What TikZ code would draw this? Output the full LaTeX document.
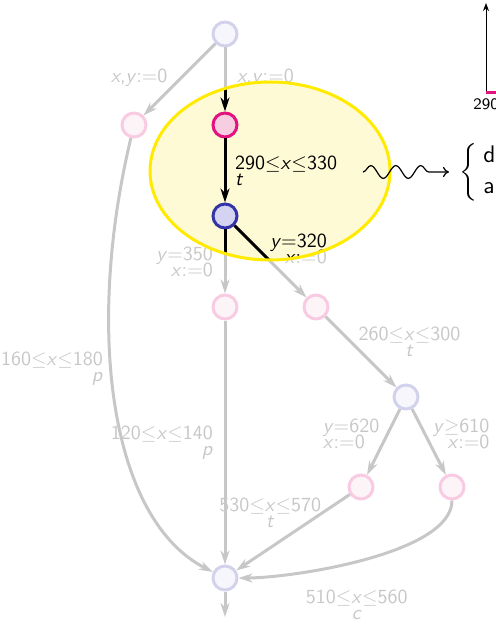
\documentclass[tikz,border=0pt]{standalone}
\usepackage{tikz}
\usepackage{amsmath}
\usepackage{xcolor}
\usetikzlibrary{arrows.meta,decorations.pathmorphing}

\definecolor{locpink}{HTML}{E2127F}
\definecolor{locpinkfill}{HTML}{F6CDE1}
\definecolor{locblue}{HTML}{3434A8}
\definecolor{locbluefill}{HTML}{D4D4F2}
\definecolor{zonefill}{HTML}{FFFAD6}
\definecolor{zonedraw}{HTML}{FFEA00}

% faded colours by default
\colorlet{cedge}{black!22}
\colorlet{cpink}{locpink!22}
\colorlet{cpinkfill}{locpinkfill!22}
\colorlet{cblue}{locblue!22}
\colorlet{cbluefill}{locbluefill!22}

\tikzset{
	>={Stealth[length=7pt,width=4.5pt]},
	pinkloc/.style={circle, draw=cpink, fill=cpinkfill, line width=1.5pt, minimum size=12pt, inner sep=0pt},
	blueloc/.style={circle, draw=cblue, fill=cbluefill, line width=1.5pt, minimum size=12pt, inner sep=0pt},
	trans/.style={->, draw=cedge, line width=1.5pt},
	guard/.style={font=\sffamily, text=cedge, align=center},
	zone/.style={line width=1.5pt},
	wave/.style={semithick, -{To[length=3pt,width=5pt]}, decorate, decoration={snake, amplitude=3.2pt, segment length=12.5pt, post length=4pt}},
	axis/.style={line width=0.5pt, -{Stealth[length=4pt,width=3pt]}},
	tick/.style={draw=locpink, line width=1.5pt}
}

\begin{document}
\begin{tikzpicture}[x=0.5pt, y=-0.5pt]
	\useasboundingbox (0,0) rectangle (495,625);

	% --- Locations ---
	\node[blueloc] (l0) at (225,34) {};
	\node[pinkloc] (l1) at (134,125) {};
	\node[pinkloc] (l2) at (225,125) {};
	\node[blueloc] (l3) at (225,216) {};
	\node[pinkloc] (l4) at (225,307) {};
	\node[pinkloc] (l5) at (316,307) {};
	\node[blueloc] (l6) at (406,397) {};
	\node[pinkloc] (l7) at (361,487) {};
	\node[pinkloc] (l8) at (452,487) {};
	\node[blueloc] (l9) at (225,578) {};
	\coordinate (out) at (225,617);

	% --- Transitions ---
	\draw[trans] (l0) -- node[guard, pos=0.47, left, xshift=-3pt] {\textit{x},\textit{y}:=0} (l1);
	\draw[trans] (l0) -- node[guard, pos=0.47, right, xshift=2pt] {\textit{x},\textit{y}:=0} (l2);
	\draw[trans] (l2) -- (l3);
	\draw[trans] (l3) -- node[guard, midway, left, align=right, xshift=-2pt] {\textit{y}=350\\[-4pt]\textit{x}:=0} (l4);
	\draw[trans] (l3) -- node[guard, pos=0.33, right, align=right, xshift=2pt] {\textit{y}=320\\[-4pt]\textit{x}:=0} (l5);
	\draw[trans] (l1) .. controls (85,330) and (110,520) .. node[guard, pos=0.42, left, align=right] {160$\leq$\textit{x}$\leq$180\\[-4pt]\textit{p}} (l9);
	\draw[trans] (l4) -- node[guard, midway, left, align=right, xshift=-2pt] {120$\leq$\textit{x}$\leq$140\\[-4pt]\textit{p}} (l9);
	\draw[trans] (l5) -- node[guard, pos=0.35, right] {260$\leq$\textit{x}$\leq$300\\[-4pt]\textit{t}} (l6);
	\draw[trans] (l6) -- node[guard, pos=0.38, left, align=left] {\textit{y}=620\\[-4pt]\textit{x}:=0} (l7);
	\draw[trans] (l6) -- node[guard, pos=0.38, right, align=right] {\textit{y}$\geq$610\\[-4pt]\textit{x}:=0} (l8);
	\draw[trans] (l7) -- node[guard, pos=0.7, above=6pt] {530$\leq$\textit{x}$\leq$570\\[-4pt]\textit{t}} (l9);
	\draw[trans] (l8) to[out=-90, in=0, looseness=0.6] node[guard, pos=0.53, below=10pt] {510$\leq$\textit{x}$\leq$560\\[-4pt]\textit{c}} (l9);
	\draw[trans] (l9) -- (out);

	% --- Highlighted zone ---
	\fill[zonefill] (270,171) ellipse [x radius=60pt, y radius=44.5pt];
	\begin{scope}
		\clip (270,171) ellipse [x radius=60pt, y radius=44.5pt];
		\colorlet{cedge}{black}
		\colorlet{cpink}{locpink}
		\colorlet{cpinkfill}{locpinkfill}
		\colorlet{cblue}{locblue}
		\colorlet{cbluefill}{locbluefill}
		\node[pinkloc] (l2) at (225,125) {};
		\node[blueloc] (l3) at (225,216) {};
		\draw[trans] (l0) -- (l2);
		\draw[trans] (l2) -- node[guard, midway, right, align=left, xshift=1pt] {290$\leq$\textit{x}$\leq$330\\[-4pt]\textit{t}} (l3);
		\draw[trans] (l3) -- (l4);
		\draw[trans] (l3) -- node[guard, pos=0.33, right, align=right, xshift=2pt] {\textit{y}=320\\[-4pt]\textit{x}:=0} (l5);
	\end{scope}
	\draw[zone, zonedraw] (270,171) ellipse [x radius=60pt, y radius=44.5pt];

	% --- Wave to the spec ---
	\node[anchor=west, inner sep=0pt, font=\large] (spec) at (459,172) {$\renewcommand{\arraystretch}{1.1}\left\{\begin{array}{@{\hspace{3pt}}l}\textsf{d}\\\textsf{a}\end{array}\right.$};
	\coordinate (wavestart) at (363,172);
	\coordinate (waveend) at (449,172);
	\draw[wave] (wavestart) -- (waveend);

	% --- Axis ---
	\coordinate (axo) at (486,93);
	\coordinate (axtop) at (486,3);
	\coordinate (tickend) at (500,93);
	\draw[axis] (axo) -- (axtop);
	\draw[tick] (axo) -- (tickend);
	\node[font=\footnotesize\sffamily, below, inner sep=2.5pt] (axlab) at (axo) {290};
\end{tikzpicture}
\end{document}
